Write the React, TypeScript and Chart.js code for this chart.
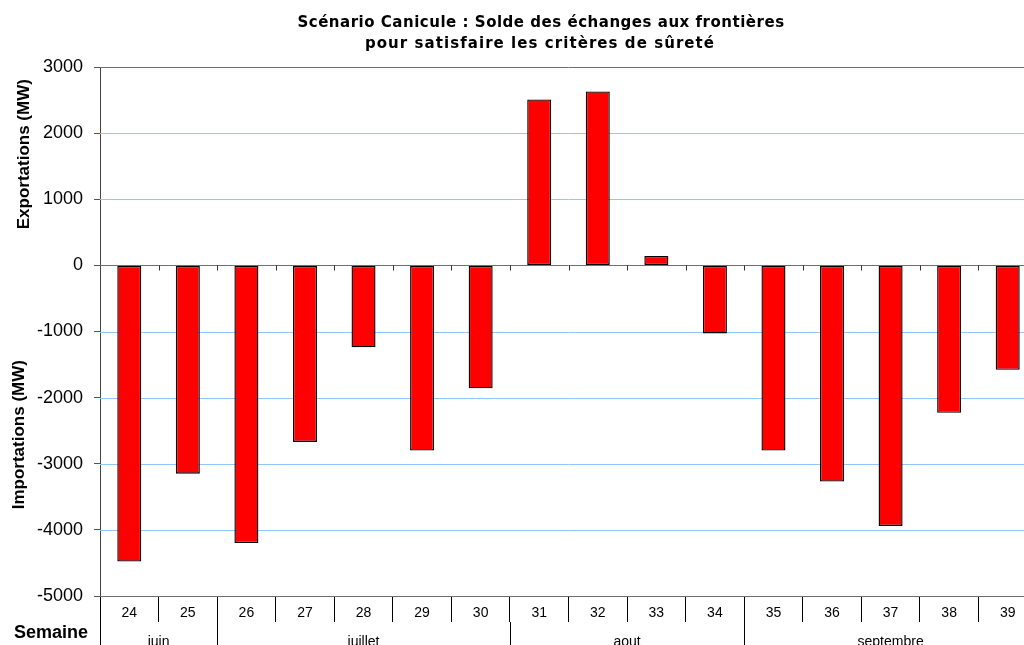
import React, { useEffect, useRef } from 'react';
import { Chart, registerables } from 'chart.js';

Chart.register(...registerables);

// ---- data ----
const weeks = ['24', '25', '26', '27', '28', '29', '30', '31', '32', '33', '34', '35', '36', '37', '38', '39'];
const solde = [-4480, -3150, -4200, -2670, -1240, -2800, -1860, 2510, 2630, 140, -1030, -2800, -3270, -3940, -2230, -1580];
const months = ['juin', 'juillet', 'aout', 'septembre'];
const monthSpans = [2, 5, 4, 5];
const yTickValues = [-5000, -4000, -3000, -2000, -1000, 0, 1000, 2000, 3000];
const titleLines = ['Scénario Canicule : Solde des échanges aux frontières', 'pour satisfaire les critères de sûreté'];
const yTitleTop = 'Exportations (MW)';
const yTitleBottom = 'Importations (MW)';
const xTitle = 'Semaine';

const yMin = yTickValues[0];
const yMax = yTickValues[yTickValues.length - 1];

const FONT = "'Liberation Sans', Arial, sans-serif";
const TITLE_FONT = "'DejaVu Sans', Verdana, sans-serif";
const GRID_BLUE = '#8ec8ff';
const GRID_GRAY = '#6f6f6f';

function fitText(ctx: CanvasRenderingContext2D, text: string, cx: number, base: number, target: number) {
  const anyCtx = ctx as any;
  anyCtx.letterSpacing = '0px';
  const w = ctx.measureText(text).width;
  const n = Array.from(text).length;
  const ls = Math.max(0, (target - w) / n);
  anyCtx.letterSpacing = ls.toFixed(2) + 'px';
  ctx.textAlign = 'left';
  const w2 = ctx.measureText(text).width;
  ctx.fillText(text, cx - w2 / 2, base);
  anyCtx.letterSpacing = '0px';
}

// horizontal grid lines drawn from the y scale, behind the bars
const gridPlugin = {
  id: 'blueGrid',
  beforeDatasetsDraw(chart: any) {
    const ctx: CanvasRenderingContext2D = chart.ctx;
    const ys = chart.scales.y;
    const area = chart.chartArea;
    ctx.save();
    ctx.lineWidth = 1;
    yTickValues.forEach((v) => {
      const py = Math.round(ys.getPixelForValue(v)) + 0.5;
      ctx.strokeStyle = v === yMax || v === 0 || v === yMin ? GRID_GRAY : GRID_BLUE;
      ctx.beginPath();
      ctx.moveTo(area.left, py);
      ctx.lineTo(area.right, py);
      ctx.stroke();
    });
    ctx.restore();
  },
};

const extrasPlugin = {
  id: 'extras',
  afterDraw(chart: any) {
    const ctx: CanvasRenderingContext2D = chart.ctx;
    const xs = chart.scales.x;
    const ys = chart.scales.y;
    const n = weeks.length;
    const bound = (i: number) => {
      if (i < 0) return xs.left;
      if (i >= n - 1) return xs.right;
      return (xs.getPixelForValue(i) + xs.getPixelForValue(i + 1)) / 2;
    };
    ctx.save();
    // small ticks on the zero line
    const y0 = Math.round(ys.getPixelForValue(0)) + 0.5;
    ctx.strokeStyle = '#333';
    ctx.lineWidth = 1;
    for (let i = 0; i < n - 1; i++) {
      const bx = Math.round(bound(i)) + 0.5;
      ctx.beginPath();
      ctx.moveTo(bx, y0);
      ctx.lineTo(bx, y0 + 5);
      ctx.stroke();
    }
    // month separators and labels
    const yb = ys.bottom;
    ctx.strokeStyle = '#000';
    let start = 0;
    const edges: number[] = [-1];
    monthSpans.forEach((s) => {
      start += s;
      edges.push(start - 1);
    });
    edges.forEach((e) => {
      const bx = Math.round(bound(e)) + 0.5;
      ctx.beginPath();
      ctx.moveTo(bx, yb + 26);
      ctx.lineTo(bx, chart.height);
      ctx.stroke();
    });
    ctx.fillStyle = '#000';
    ctx.font = `14px ${FONT}`;
    ctx.textAlign = 'center';
    ctx.textBaseline = 'alphabetic';
    months.forEach((m, k) => {
      const cx = (bound(edges[k]) + bound(edges[k + 1])) / 2;
      ctx.fillText(m, cx, yb + 50);
    });
    // Semaine
    ctx.font = `bold 18px ${FONT}`;
    ctx.textAlign = 'left';
    ctx.fillText(xTitle, 14, yb + 42);
    // axis titles
    ctx.font = `bold 17px ${FONT}`;
    ctx.textAlign = 'center';
    const topMid = (ys.getPixelForValue(yMax) + ys.getPixelForValue(0)) / 2;
    const botMid = (ys.getPixelForValue(0) + ys.getPixelForValue(yMin)) / 2;
    ctx.save();
    ctx.translate(29, topMid - 12);
    ctx.rotate(-Math.PI / 2);
    ctx.fillText(yTitleTop, 0, 0);
    ctx.restore();
    ctx.save();
    ctx.translate(24, botMid + 4);
    ctx.rotate(-Math.PI / 2);
    ctx.fillText(yTitleBottom, 0, 0);
    ctx.restore();
    // title
    ctx.font = `bold 15px ${TITLE_FONT}`;
    fitText(ctx, titleLines[0], 541, 27, 487);
    fitText(ctx, titleLines[1], 540, 48, 350);
    ctx.restore();
  },
};

export default function App() {
  const ref = useRef<HTMLCanvasElement | null>(null);
  useEffect(() => {
    if (!ref.current) return;
    const chart = new Chart(ref.current, {
      type: 'bar',
      data: {
        labels: weeks,
        datasets: [
          {
            data: solde,
            backgroundColor: '#ff0000',
            borderColor: '#000000',
            borderWidth: 1.4,
            borderSkipped: false,
            categoryPercentage: 1,
            barPercentage: 0.41,
          },
        ],
      },
      options: {
        responsive: false,
        maintainAspectRatio: false,
        animation: false,
        layout: { padding: { top: 67, right: 3, left: 0, bottom: 0 } },
        plugins: {
          legend: { display: false },
          tooltip: { enabled: false },
          title: { display: false },
        },
        scales: {
          x: {
            type: 'category',
            position: 'bottom',
            offset: true,
            grid: {
              display: true,
              offset: true,
              drawOnChartArea: false,
              drawTicks: true,
              tickLength: 26,
              color: '#000',
              lineWidth: 1,
            },
            border: { display: false },
            ticks: {
              color: '#000',
              font: { family: FONT, size: 14 },
              padding: -17,
              maxRotation: 0,
              autoSkip: false,
            },
            afterFit: (s: any) => {
              s.height = 49;
            },
          },
          y: {
            min: yMin,
            max: yMax,
            grid: {
              display: true,
              drawOnChartArea: false,
              drawTicks: true,
              color: '#555',
              tickColor: '#555',
              tickLength: 6,
              lineWidth: 1,
            },
            border: { display: true, color: '#444', width: 1 },
            ticks: {
              stepSize: yTickValues[1] - yTickValues[0],
              color: '#000',
              font: { family: FONT, size: 18 },
              padding: 11,
              callback: (v: any) => String(v),
            },
            afterFit: (s: any) => {
              s.width = 100;
            },
          },
        },
      },
      plugins: [gridPlugin, extrasPlugin],
    } as any);
    return () => chart.destroy();
  }, []);
  return (
    <div style={{ position: 'fixed', left: 0, top: 0, width: 1024, height: 645, overflow: 'hidden', background: '#fff' }}>
      <canvas ref={ref} width={1040} height={645} style={{ display: 'block' }} />
    </div>
  );
}
